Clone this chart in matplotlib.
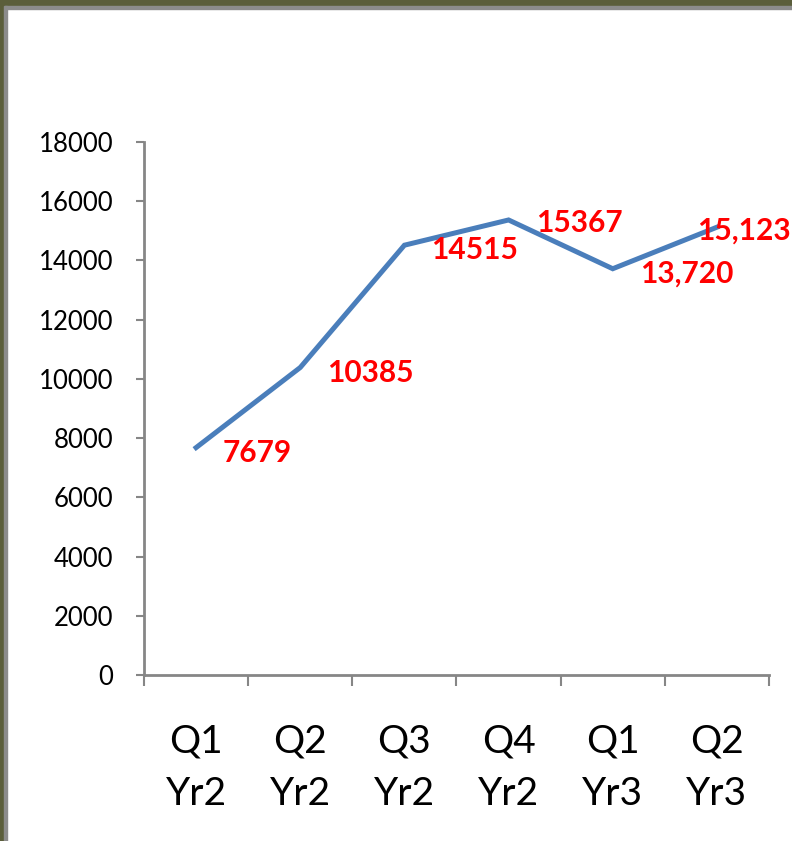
import matplotlib.pyplot as plt
from matplotlib.patches import Rectangle
from matplotlib.ticker import FixedLocator

# data
categories = ['Q1\nYr2', 'Q2\nYr2', 'Q3\nYr2', 'Q4\nYr2', 'Q1\nYr3', 'Q2\nYr3']
values = [7679, 10385, 14515, 15367, 13720, 15123]
value_labels = ['7679', '10385', '14515', '15367', '13,720', '15,123']
yticks = [0, 2000, 4000, 6000, 8000, 10000, 12000, 14000, 16000, 18000]

# offsets of the data labels (points)
label_offsets = [(19, -4), (19, -4), (19, -3.5), (20, -2.5), (20, -3.5), (-14, -2.5)]

plt.rcParams['font.family'] = ['Lato', 'DejaVu Sans']

fig = plt.figure(figsize=(7.92, 8.41), dpi=100)
ax = fig.add_axes([144 / 792, 1 - 675 / 841, (769 - 144) / 792, (675 - 142) / 841])

x = list(range(len(categories)))
ax.plot(x, values, color='#4a7ebb', linewidth=3.6, solid_joinstyle='miter')

for xi, v, lab, off in zip(x, values, value_labels, label_offsets):
    ax.annotate(lab, (xi, v), xytext=off, textcoords='offset points',
                ha='left', va='center', color='#ff0000', fontsize=21.5,
                fontweight='bold', annotation_clip=False)

ax.set_xlim(-0.5, len(categories) - 0.5)
ax.set_ylim(0, 18000)
ax.set_yticks(yticks)
ax.tick_params(axis='y', labelsize=18.5, length=6, width=1.5, color='#868686', pad=16)

# category labels between tick marks
ax.set_xticks(x)
ax.set_xticklabels(categories, fontsize=28, linespacing=1.55)
ax.xaxis.set_minor_locator(FixedLocator([i - 0.5 for i in range(len(categories) + 1)]))
ax.tick_params(axis='x', which='major', length=0, pad=35)
ax.tick_params(axis='x', which='minor', length=8, width=1.5, color='#868686')

for side in ['top', 'right']:
    ax.spines[side].set_visible(False)
for side in ['left', 'bottom']:
    ax.spines[side].set_color('#868686')
    ax.spines[side].set_linewidth(2)

# frame around the chart area
fig.patches.append(Rectangle((0, 1 - 6 / 841), 1, 6 / 841, transform=fig.transFigure,
                             color='#5b5e3b', zorder=0))
fig.patches.append(Rectangle((0, 1 - 9 / 841), 1, 3 / 841, transform=fig.transFigure,
                             color='#8c8c8c', zorder=0))
fig.patches.append(Rectangle((0, 0), 4 / 792, 1, transform=fig.transFigure,
                             color='#5b5e3b', zorder=0))
fig.patches.append(Rectangle((4 / 792, 0), 3 / 792, 1 - 6 / 841, transform=fig.transFigure,
                             color='#8c8c8c', zorder=0))

fig.savefig('out.png', dpi=100)
